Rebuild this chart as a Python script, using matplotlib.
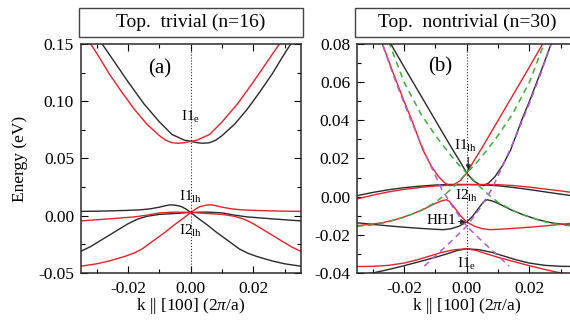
import matplotlib
matplotlib.use("Agg")
from matplotlib import pyplot as plt
from matplotlib.patches import Rectangle
from matplotlib.ticker import MultipleLocator, FormatStrFormatter

plt.rcParams['font.family'] = ['Liberation Serif', 'DejaVu Serif']
plt.rcParams['mathtext.fontset'] = 'custom'
plt.rcParams['mathtext.rm'] = 'Liberation Serif'
plt.rcParams['mathtext.it'] = 'Liberation Serif:italic'

BLACK = '#2a2a2a'
RED = '#e8202a'
GREEN = '#3fae3f'
MAGENTA = '#b45ad2'

titles = ['Top.  trivial (n=16)', 'Top.  nontrivial (n=30)']

# ---------- panel (a): trivial, n=16 ----------
a_I1e_blk_k = [-0.035, -0.030, -0.025, -0.020, -0.015, -0.010, -0.006, -0.002, 0.000, 0.002,
               0.004, 0.006, 0.008, 0.010, 0.014, 0.018, 0.022, 0.026, 0.030, 0.035]
a_I1e_blk_E = [0.176, 0.157, 0.137, 0.117, 0.098, 0.082, 0.071, 0.066, 0.065, 0.0638,
               0.0633, 0.0638, 0.066, 0.070, 0.080, 0.093, 0.108, 0.124, 0.142, 0.163]
a_I1e_red_k = [-0.035, -0.030, -0.026, -0.022, -0.018, -0.014, -0.010, -0.008, -0.006, -0.004,
               -0.002, 0.000, 0.002, 0.006, 0.010, 0.015, 0.020, 0.025, 0.030, 0.035]
a_I1e_red_E = [0.163, 0.142, 0.124, 0.108, 0.093, 0.080, 0.070, 0.066, 0.0638, 0.0633,
               0.0638, 0.065, 0.066, 0.071, 0.082, 0.098, 0.117, 0.137, 0.157, 0.176]

a_lh1_blk_k = [-0.035, -0.030, -0.025, -0.020, -0.016, -0.013, -0.010, -0.008, -0.0066, -0.005,
               -0.003, -0.0015, 0.0, 0.002, 0.0035, 0.0055, 0.008, 0.0105, 0.013, 0.0155,
               0.018, 0.021, 0.026, 0.030, 0.035]
a_lh1_blk_E = [0.0038, 0.0040, 0.0043, 0.0047, 0.0052, 0.0060, 0.0075, 0.0088, 0.0095, 0.0093,
               0.0080, 0.0058, 0.0029, -0.0015, -0.0045, -0.0085, -0.0140, -0.0190, -0.0240, -0.0290,
               -0.0325, -0.0355, -0.0395, -0.0420, -0.0440]
a_lh1_red_k = [-0.035, -0.030, -0.026, -0.021, -0.018, -0.0155, -0.013, -0.0105, -0.008, -0.0055,
               -0.0035, -0.002, 0.0, 0.0015, 0.003, 0.005, 0.0066, 0.008, 0.010, 0.013,
               0.016, 0.020, 0.025, 0.030, 0.035]
a_lh1_red_E = [-0.0440, -0.0420, -0.0395, -0.0355, -0.0325, -0.0290, -0.0240, -0.0190, -0.0140, -0.0085,
               -0.0045, -0.0015, 0.0029, 0.0058, 0.0080, 0.0093, 0.0095, 0.0088, 0.0075, 0.0060,
               0.0052, 0.0047, 0.0043, 0.0040, 0.0038]

a_lh2_blk_k = [-0.035, -0.032, -0.029, -0.026, -0.023, -0.020, -0.017, -0.014, -0.010,
               -0.005, 0.0, 0.005, 0.010, 0.014, 0.018, 0.025, 0.030, 0.035]
a_lh2_blk_E = [-0.031, -0.027, -0.022, -0.017, -0.012, -0.007, -0.003, -0.0005, 0.0012,
               0.0020, 0.0029, 0.0032, 0.0025, 0.0005, -0.0010, -0.0025, -0.0035, -0.0045]
a_lh2_red_k = [-0.035, -0.030, -0.025, -0.018, -0.014, -0.010, -0.005, 0.0, 0.005,
               0.010, 0.014, 0.017, 0.020, 0.023, 0.026, 0.029, 0.032, 0.035]
a_lh2_red_E = [-0.0045, -0.0035, -0.0025, -0.0010, 0.0005, 0.0025, 0.0032, 0.0029, 0.0020,
               0.0012, -0.0005, -0.003, -0.007, -0.012, -0.017, -0.022, -0.027, -0.031]

# ---------- panel (b): nontrivial, n=30 ----------
b_lh1_blk_k = [-0.035, -0.030, -0.0242, -0.020, -0.015, -0.010, -0.005, -0.002, 0.0, 0.002, 0.004,
               0.0054, 0.007, 0.009, 0.0113, 0.014, 0.0175, 0.020, 0.0235, 0.0269, 0.030, 0.035]
b_lh1_blk_E = [0.110, 0.096, 0.080, 0.068, 0.054, 0.040, 0.026, 0.018, 0.0124, 0.0085, 0.0064,
               0.0058, 0.0072, 0.0105, 0.016, 0.0245, 0.040, 0.050, 0.065, 0.080, 0.092, 0.112]
b_lh1_red_k = [-0.035, -0.030, -0.0269, -0.0235, -0.020, -0.0175, -0.014, -0.0113, -0.009, -0.007, -0.0054,
               -0.004, -0.002, 0.0, 0.002, 0.005, 0.010, 0.015, 0.020, 0.0242, 0.030, 0.035]
b_lh1_red_E = [0.112, 0.092, 0.080, 0.065, 0.050, 0.040, 0.0245, 0.016, 0.0105, 0.0072, 0.0058,
               0.0064, 0.0085, 0.0124, 0.018, 0.026, 0.040, 0.054, 0.068, 0.080, 0.096, 0.110]

b_band_k = [-0.035, -0.030, -0.025, -0.020, -0.015, -0.010, -0.0054, 0.0,
            0.0054, 0.010, 0.015, 0.020, 0.025, 0.030, 0.035]
b_lh2_blk_E = [0.0005, 0.0022, 0.0036, 0.0047, 0.0055, 0.0061, 0.0064, 0.0064,
               0.0062, 0.0057, 0.0048, 0.0037, 0.0025, 0.0013, 0.0002]
b_lh2_red_E = [-0.0012, 0.0008, 0.0025, 0.0038, 0.0048, 0.0056, 0.0060, 0.0063,
               0.0064, 0.0063, 0.0058, 0.0050, 0.0040, 0.0030, 0.0019]

b_hh1_blk_k = [-0.035, -0.030, -0.025, -0.020, -0.015, -0.010, -0.0075, -0.005, -0.0025, 0.0, 0.002,
               0.004, 0.0055, 0.0065, 0.008, 0.010, 0.014, 0.018, 0.0226, 0.027, 0.0312, 0.035]
b_hh1_blk_E = [-0.0137, -0.0145, -0.0153, -0.0160, -0.0166, -0.0171, -0.0173, -0.0168, -0.0155, -0.0133, -0.0100,
               -0.0055, -0.0025, -0.0016, -0.0022, -0.0035, -0.0068, -0.0095, -0.0120, -0.0137, -0.0146, -0.0152]
b_hh1_red_k = [-0.035, -0.0312, -0.027, -0.0226, -0.018, -0.014, -0.010, -0.008, -0.0065, -0.0055, -0.004,
               -0.002, 0.0, 0.0025, 0.005, 0.0075, 0.010, 0.015, 0.020, 0.025, 0.030, 0.035]
b_hh1_red_E = [-0.0152, -0.0146, -0.0137, -0.0120, -0.0095, -0.0068, -0.0035, -0.0022, -0.0016, -0.0025, -0.0055,
               -0.0100, -0.0133, -0.0155, -0.0168, -0.0173, -0.0171, -0.0166, -0.0160, -0.0153, -0.0145, -0.0137]

b_e1_blk_k = [-0.035, -0.030, -0.025, -0.020, -0.015, -0.010, -0.006, -0.003, 0.0,
              0.004, 0.008, 0.012, 0.016, 0.020, 0.025, 0.030, 0.035]
b_e1_blk_E = [-0.0410, -0.0400, -0.0382, -0.0362, -0.0340, -0.0318, -0.0298, -0.0282, -0.0273,
              -0.0278, -0.0292, -0.0312, -0.0332, -0.0348, -0.0360, -0.0365, -0.0366]
b_e1_red_k = [-0.035, -0.030, -0.025, -0.020, -0.016, -0.012, -0.008, -0.004, 0.0,
              0.003, 0.006, 0.010, 0.015, 0.020, 0.025, 0.030, 0.035]
b_e1_red_E = [-0.0366, -0.0365, -0.0360, -0.0348, -0.0332, -0.0312, -0.0292, -0.0278, -0.0273,
              -0.0282, -0.0298, -0.0318, -0.0340, -0.0362, -0.0382, -0.0400, -0.0410]

# dashed reference bands
b_grn1_k = [-0.035, -0.030, -0.025, -0.020, -0.015, -0.010, -0.007, -0.004, -0.002, 0.0,
            0.003, 0.006, 0.0095, 0.0145, 0.020, 0.0246, 0.030]
b_grn1_E = [-0.0155, -0.0148, -0.0132, -0.0108, -0.0075, -0.0030, 0.0010, 0.0055, 0.0090, 0.0124,
            0.0175, 0.0235, 0.0310, 0.0430, 0.0600, 0.0800, 0.1020]
b_grn2_k = [-0.030, -0.0246, -0.020, -0.0145, -0.0095, -0.006, -0.003, 0.0,
            0.002, 0.004, 0.007, 0.010, 0.015, 0.020, 0.025, 0.030, 0.035]
b_grn2_E = [0.1020, 0.0800, 0.0600, 0.0430, 0.0310, 0.0235, 0.0175, 0.0124,
            0.0090, 0.0055, 0.0010, -0.0030, -0.0075, -0.0108, -0.0132, -0.0148, -0.0155]

b_mag1_k = [-0.0135, -0.010, -0.005, 0.0, 0.004, 0.008, 0.012, 0.016, 0.020, 0.0235, 0.0269, 0.030]
b_mag1_E = [-0.0364, -0.0310, -0.0235, -0.0155, -0.0065, 0.0040, 0.0180, 0.0330, 0.0490, 0.0640, 0.0800, 0.0950]
b_mag2_k = [-0.030, -0.0269, -0.0235, -0.020, -0.016, -0.012, -0.008, -0.004, 0.0, 0.005, 0.010, 0.0135]
b_mag2_E = [0.0950, 0.0800, 0.0640, 0.0490, 0.0330, 0.0180, 0.0040, -0.0065, -0.0155, -0.0235, -0.0310, -0.0364]

fig = plt.figure(figsize=(5.7, 3.25), dpi=100)
ax_a = fig.add_axes([81 / 570, 52 / 325, 219.5 / 570, 229 / 325])
ax_b = fig.add_axes([357 / 570, 52 / 325, 219.5 / 570, 229 / 325])

lw = 1.0
ax_a.plot(a_I1e_blk_k, a_I1e_blk_E, color=BLACK, lw=lw)
ax_a.plot(a_I1e_red_k, a_I1e_red_E, color=RED, lw=lw)
ax_a.plot(a_lh1_blk_k, a_lh1_blk_E, color=BLACK, lw=lw)
ax_a.plot(a_lh2_blk_k, a_lh2_blk_E, color=BLACK, lw=lw)
ax_a.plot(a_lh1_red_k, a_lh1_red_E, color=RED, lw=lw)
ax_a.plot(a_lh2_red_k, a_lh2_red_E, color=RED, lw=lw)

ax_b.plot(b_lh1_blk_k, b_lh1_blk_E, color=BLACK, lw=lw)
ax_b.plot(b_band_k, b_lh2_blk_E, color=BLACK, lw=lw)
ax_b.plot(b_hh1_blk_k, b_hh1_blk_E, color=BLACK, lw=lw)
ax_b.plot(b_e1_blk_k, b_e1_blk_E, color=BLACK, lw=lw)
ax_b.plot(b_lh1_red_k, b_lh1_red_E, color=RED, lw=lw)
ax_b.plot(b_band_k, b_lh2_red_E, color=RED, lw=lw)
ax_b.plot(b_hh1_red_k, b_hh1_red_E, color=RED, lw=lw)
ax_b.plot(b_e1_red_k, b_e1_red_E, color=RED, lw=lw)
for k, E in [(b_grn1_k, b_grn1_E), (b_grn2_k, b_grn2_E)]:
    ax_b.plot(k, E, color=GREEN, lw=1.1, ls=(0, (4, 3)))
for k, E in [(b_mag1_k, b_mag1_E), (b_mag2_k, b_mag2_E)]:
    ax_b.plot(k, E, color=MAGENTA, lw=1.1, ls=(0, (4, 3)))

ax_a.set_ylim(-0.05, 0.15)
ax_b.set_ylim(-0.04, 0.08)
ax_a.yaxis.set_major_locator(MultipleLocator(0.05))
ax_a.yaxis.set_minor_locator(MultipleLocator(0.025))
ax_b.yaxis.set_major_locator(MultipleLocator(0.02))
ax_b.yaxis.set_minor_locator(MultipleLocator(0.01))
ax_a.yaxis.set_major_formatter(FormatStrFormatter('%.2f'))
ax_b.yaxis.set_major_formatter(FormatStrFormatter('%.2f'))

for ax, title in zip([ax_a, ax_b], titles):
    ax.set_xlim(-0.035, 0.035)
    ax.xaxis.set_major_locator(MultipleLocator(0.02))
    ax.xaxis.set_minor_locator(MultipleLocator(0.01))
    ax.xaxis.set_major_formatter(FormatStrFormatter('%.2f'))
    ax.axvline(0, color=BLACK, lw=0.8, ls=':')
    ax.tick_params(which='both', direction='in', top=True, right=True, labelsize=12.5, width=0.8)
    ax.tick_params(which='major', length=5)
    ax.tick_params(which='minor', length=3)
    ax.tick_params(axis='y', pad=5)
    ax.tick_params(axis='x', pad=6)
    for s in ax.spines.values():
        s.set_linewidth(1.1)
        s.set_color(BLACK)
    ax.set_xlabel(r'k || [100] (2$\pi$/a)', fontsize=12.5)
    ax.xaxis.set_label_coords(0.5, -0.10)
    ax.add_patch(Rectangle((-0.01, 1.031), 1.02, 0.126, transform=ax.transAxes,
                           clip_on=False, fill=False, lw=1.0, ec='#444444'))
    ax.text(0.5, 1.094, title, transform=ax.transAxes, ha='center', va='center', fontsize=14)

ax_a.set_ylabel('Energy (eV)', fontsize=12.5)
ax_a.yaxis.set_label_coords(-0.24, 0.5)

# labels, panel (a)
ax_a.text(-0.0098, 0.128, '(a)', fontsize=15, ha='center', va='center')
ax_a.text(0.0, 0.086, r'I1$_{\rm e}$', fontsize=11, ha='center', va='center')
ax_a.text(0.0, 0.0165, r'I1$_{\rm lh}$', fontsize=11, ha='center', va='center')
ax_a.text(0.0, -0.0135, r'I2$_{\rm lh}$', fontsize=11, ha='center', va='center')

# labels, panel (b)
ax_b.text(-0.0086, 0.068, '(b)', fontsize=15, ha='center', va='center')
ax_b.text(-0.0003, 0.0265, r'I1$_{\rm lh}$', fontsize=11, ha='center', va='center')
ax_b.annotate('', xy=(0.0005, 0.0125), xytext=(0.0005, 0.022),
              arrowprops=dict(arrowstyle='-|>', color=BLACK, lw=0.8, mutation_scale=7))
ax_b.text(0.0, 0.0002, r'I2$_{\rm lh}$', fontsize=11, ha='center', va='center')
ax_b.annotate('HH1', xy=(-0.0003, -0.0133), xytext=(-0.0035, -0.0123), fontsize=11,
              ha='right', va='center',
              arrowprops=dict(arrowstyle='-|>', color=BLACK, lw=0.8, mutation_scale=7,
                              shrinkA=0, shrinkB=0))
ax_b.text(0.0, -0.0355, r'I1$_{\rm e}$', fontsize=11, ha='center', va='center')

fig.savefig('out.png', dpi=100)
